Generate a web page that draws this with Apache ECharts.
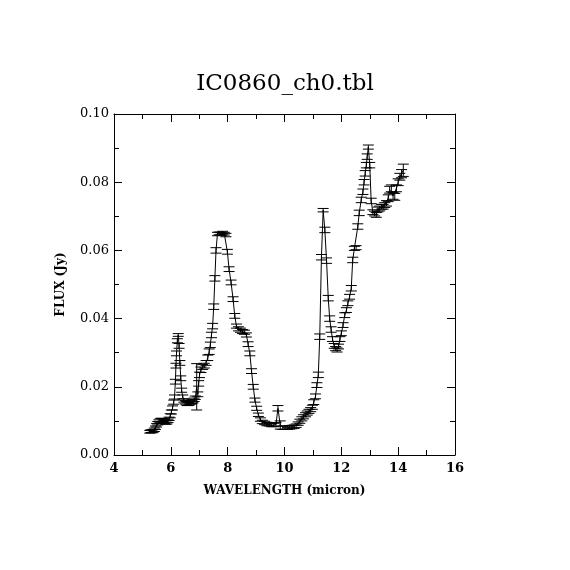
<!DOCTYPE html>
<html>
<head>
<meta charset="utf-8">
<script src="https://cdn.jsdelivr.net/npm/echarts@6/dist/echarts.min.js"></script>
<style>
  html, body { margin: 0; padding: 0; background: #fff; }
  #chart { width: 570px; height: 570px; }
</style>
</head>
<body>
<div id="chart"></div>
<script>
// spectrum: wavelength (micron), flux (Jy), 1-sigma error (Jy)
var wavelength = [
  5.26, 5.30, 5.34, 5.38, 5.42, 5.46, 5.50, 5.54, 5.58, 5.62, 5.66, 5.70, 5.74, 5.78, 5.82, 5.86,
  5.90, 5.94, 5.98, 6.02, 6.06, 6.10, 6.13, 6.16, 6.18, 6.20, 6.23, 6.26, 6.29, 6.32, 6.35, 6.38,
  6.42, 6.46, 6.50, 6.54, 6.58, 6.62, 6.66, 6.70, 6.74, 6.78, 6.82, 6.86, 6.91, 6.95, 6.98, 7.01,
  7.06, 7.12, 7.18, 7.24, 7.30, 7.35, 7.39, 7.43, 7.47, 7.51, 7.55, 7.59, 7.64, 7.70, 7.76, 7.82,
  7.88, 7.94, 7.99, 8.05, 8.12, 8.19, 8.25, 8.31, 8.38, 8.45, 8.52, 8.59, 8.66, 8.72, 8.78, 8.84,
  8.90, 8.96, 9.02, 9.08, 9.15, 9.22, 9.30, 9.38, 9.46, 9.54, 9.62, 9.70, 9.77, 9.85, 9.94, 10.02,
  10.10, 10.18, 10.26, 10.34, 10.41, 10.48, 10.54, 10.61, 10.67, 10.74, 10.80, 10.86, 10.92, 10.98,
  11.03, 11.09, 11.14, 11.19, 11.24, 11.30, 11.36, 11.42, 11.48, 11.54, 11.59, 11.64, 11.69, 11.75,
  11.80, 11.85, 11.90, 11.95, 12.00, 12.06, 12.12, 12.18, 12.23, 12.29, 12.35, 12.40, 12.46, 12.52,
  12.58, 12.63, 12.70, 12.76, 12.80, 12.84, 12.88, 12.91, 12.95, 13.00, 13.05, 13.11, 13.17, 13.23,
  13.29, 13.35, 13.41, 13.47, 13.53, 13.59, 13.65, 13.70, 13.76, 13.82, 13.88, 13.94, 14.00, 14.06,
  14.12, 14.18
];
var flux = [
  0.0068, 0.0070, 0.0069, 0.0071, 0.0074, 0.0080, 0.0087, 0.0093, 0.0098, 0.0101, 0.0103, 0.0102, 0.0100, 0.0097, 0.0095, 0.0096,
  0.0100, 0.0106, 0.0115, 0.0126, 0.0138, 0.0155, 0.0170, 0.0215, 0.0262, 0.0298, 0.0335, 0.0352, 0.0320, 0.0270, 0.0225, 0.0190,
  0.0170, 0.0160, 0.0155, 0.0152, 0.0150, 0.0150, 0.0152, 0.0154, 0.0156, 0.0158, 0.0162, 0.0168, 0.0200, 0.0178, 0.0210, 0.0235,
  0.0250, 0.0258, 0.0262, 0.0270, 0.0285, 0.0303, 0.0323, 0.0352, 0.0378, 0.0435, 0.0518, 0.0600, 0.0648, 0.0650, 0.0648, 0.0652,
  0.0649, 0.0645, 0.0596, 0.0545, 0.0506, 0.0457, 0.0408, 0.0378, 0.0370, 0.0366, 0.0362, 0.0360, 0.0352, 0.0325, 0.0298, 0.0246,
  0.0200, 0.0161, 0.0137, 0.0118, 0.0104, 0.0097, 0.0094, 0.0091, 0.0090, 0.0088, 0.0088, 0.0090, 0.0137, 0.0088, 0.0080, 0.0080,
  0.0080, 0.0081, 0.0082, 0.0083, 0.0086, 0.0092, 0.0099, 0.0106, 0.0112, 0.0118, 0.0123, 0.0128, 0.0133, 0.0140,
  0.0155, 0.0172, 0.0205, 0.0235, 0.0347, 0.0580, 0.0718, 0.0660, 0.0570, 0.0460, 0.0400, 0.0368, 0.0340, 0.0320,
  0.0312, 0.0308, 0.0318, 0.0340, 0.0357, 0.0381, 0.0410, 0.0425, 0.0445, 0.0464, 0.0489, 0.0572, 0.0606, 0.0608,
  0.0670, 0.0710, 0.0748, 0.0772, 0.0800, 0.0826, 0.0850, 0.0875, 0.0903, 0.0850, 0.0745, 0.0712, 0.0708, 0.0704,
  0.0720, 0.0723, 0.0728, 0.0728, 0.0733, 0.0738, 0.0753, 0.0778, 0.0782, 0.0760, 0.0757, 0.0782, 0.0800, 0.0816,
  0.0825, 0.0835
];
var fluxErr = [
  0.0004, 0.0004, 0.0004, 0.0004, 0.0005, 0.0005, 0.0005, 0.0005, 0.0005, 0.0005, 0.0005, 0.0005, 0.0005, 0.0005, 0.0005, 0.0005,
  0.0005, 0.0005, 0.0006, 0.0006, 0.0006, 0.0006, 0.0006, 0.0007, 0.0007, 0.0007, 0.0006, 0.0004, 0.0007, 0.0007, 0.0007, 0.0006,
  0.0006, 0.0005, 0.0005, 0.0005, 0.0005, 0.0005, 0.0005, 0.0005, 0.0005, 0.0005, 0.0005, 0.0005, 0.0068, 0.0007, 0.0008, 0.0008,
  0.0008, 0.0007, 0.0007, 0.0007, 0.0008, 0.0008, 0.0008, 0.0008, 0.0008, 0.0008, 0.0008, 0.0008, 0.0005, 0.0004, 0.0004, 0.0004,
  0.0004, 0.0005, 0.0007, 0.0007, 0.0007, 0.0007, 0.0007, 0.0006, 0.0006, 0.0006, 0.0006, 0.0006, 0.0006, 0.0007, 0.0007, 0.0007,
  0.0007, 0.0006, 0.0006, 0.0005, 0.0005, 0.0005, 0.0005, 0.0005, 0.0005, 0.0005, 0.0005, 0.0005, 0.0008, 0.0012, 0.0005, 0.0005,
  0.0005, 0.0005, 0.0005, 0.0005, 0.0005, 0.0005, 0.0006, 0.0006, 0.0006, 0.0006, 0.0006, 0.0006, 0.0006, 0.0006,
  0.0007, 0.0007, 0.0007, 0.0008, 0.0008, 0.0008, 0.0005, 0.0008, 0.0008, 0.0008, 0.0008, 0.0008, 0.0007, 0.0007,
  0.0006, 0.0006, 0.0007, 0.0007, 0.0007, 0.0007, 0.0007, 0.0007, 0.0007, 0.0007, 0.0008, 0.0008, 0.0006, 0.0006,
  0.0008, 0.0008, 0.0008, 0.0008, 0.0008, 0.0008, 0.0008, 0.0008, 0.0006, 0.0008, 0.0008, 0.0007, 0.0007, 0.0007,
  0.0007, 0.0007, 0.0007, 0.0007, 0.0007, 0.0008, 0.0010, 0.0010, 0.0010, 0.0010, 0.0010, 0.0010, 0.0010, 0.0010,
  0.0012, 0.0018
];

var points = wavelength.map(function(w, i) { return [w, flux[i]]; });
var bars = wavelength.map(function(w, i) { return [w, flux[i] - fluxErr[i], flux[i] + fluxErr[i]]; });

function renderErrorBar(params, api) {
  var lo = api.coord([api.value(0), api.value(1)]);
  var hi = api.coord([api.value(0), api.value(2)]);
  var half = 5.5;
  var style = { stroke: '#000', lineWidth: 1 };
  return {
    type: 'group',
    children: [
      { type: 'line', shape: { x1: lo[0], y1: lo[1], x2: hi[0], y2: hi[1] }, style: style },
      { type: 'line', shape: { x1: lo[0] - half, y1: lo[1], x2: lo[0] + half, y2: lo[1] }, style: style },
      { type: 'line', shape: { x1: hi[0] - half, y1: hi[1], x2: hi[0] + half, y2: hi[1] }, style: style }
    ]
  };
}

var serif = 'DejaVu Serif';
var axisCommon = {
  type: 'value',
  axisLine: { show: true, onZero: false, lineStyle: { color: '#000', width: 1 } },
  axisTick: { show: true, inside: true, length: 8, lineStyle: { color: '#000' } },
  minorTick: { show: true, splitNumber: 2, length: 5, lineStyle: { color: '#000' } },
  splitLine: { show: false }
};

function axis(extra) {
  return Object.assign({}, JSON.parse(JSON.stringify(axisCommon)), extra);
}

let myChart = echarts.init(document.getElementById('chart'));
myChart.setOption({
  animation: false,
  backgroundColor: '#fff',
  title: {
    text: 'IC0860_ch0.tbl',
    left: 'center',
    top: 68,
    textStyle: { fontFamily: serif, fontSize: 23, fontWeight: 'normal', color: '#000' }
  },
  grid: { left: 114, right: 115, top: 114, bottom: 115, containLabel: false },
  xAxis: [
    axis({
      position: 'bottom', min: 4, max: 16, interval: 2,
      axisLabel: { color: '#000', fontFamily: serif, fontSize: 13, fontWeight: 'bold', margin: 7 },
      name: 'WAVELENGTH (micron)', nameLocation: 'middle', nameGap: 30,
      nameTextStyle: { color: '#000', fontFamily: serif, fontSize: 12, fontWeight: 'bold' }
    }),
    axis({ position: 'top', min: 4, max: 16, interval: 2, axisLabel: { show: false } })
  ],
  yAxis: [
    axis({
      position: 'left', min: 0, max: 0.1, interval: 0.02,
      axisLabel: { color: '#000', fontFamily: serif, fontSize: 13, margin: 5,
        formatter: function(v) { return v.toFixed(2); } },
      name: 'FLUX (Jy)', nameLocation: 'middle', nameGap: 47,
      nameTextStyle: { color: '#000', fontFamily: serif, fontSize: 12, fontWeight: 'bold' }
    }),
    axis({ position: 'right', min: 0, max: 0.1, interval: 0.02, axisLabel: { show: false } })
  ],
  series: [
    {
      type: 'line',
      data: points,
      showSymbol: false,
      lineStyle: { color: '#000', width: 1 },
      z: 2
    },
    {
      type: 'custom',
      data: bars,
      encode: { x: 0, y: [1, 2] },
      renderItem: renderErrorBar,
      z: 3
    }
  ]
});
</script>
</body>
</html>
